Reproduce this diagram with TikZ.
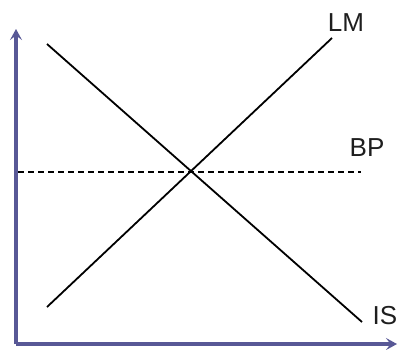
\documentclass[tikz,border=0pt]{standalone}
\usepackage{fontspec}
\setmainfont{Liberation Sans}
\usetikzlibrary{arrows.meta}
\definecolor{axiscol}{RGB}{88,88,150}
\definecolor{txt}{RGB}{30,30,30}
\tikzset{
  axis/.style={draw=axiscol, line width=3.2pt, -{Stealth[length=11pt,width=12pt,inset=4.5pt]}},
  curve/.style={draw=black, line width=1.8pt},
  bpline/.style={draw=black, line width=1.7pt, dash pattern=on 6pt off 4pt},
  lbl/.style={text=txt, font=\fontsize{26}{26}\selectfont, inner sep=0pt}
}
\begin{document}
\begin{tikzpicture}[x=1pt,y=-1pt]
\useasboundingbox (0,0) rectangle (398,349);
\coordinate (O) at (16,344);
\coordinate (Ytop) at (16,29);
\coordinate (Xend) at (397,344);
\draw[axis] (O) -- (Ytop);
\draw[axis] (O) -- (Xend);
\coordinate (lmA) at (47,307);
\coordinate (lmB) at (332,38);
\coordinate (isA) at (47,44);
\coordinate (isB) at (362,322);
\coordinate (bpA) at (18,172);
\coordinate (bpB) at (361,172);
\draw[curve] (lmA) -- (lmB);
\draw[curve] (isA) -- (isB);
\draw[bpline] (bpA) -- (bpB);
\node[lbl] (LM) at (346,23) {LM};
\node[lbl] (BP) at (367,148) {BP};
\node[lbl] (IS) at (385,316) {IS};
\end{tikzpicture}
\end{document}
